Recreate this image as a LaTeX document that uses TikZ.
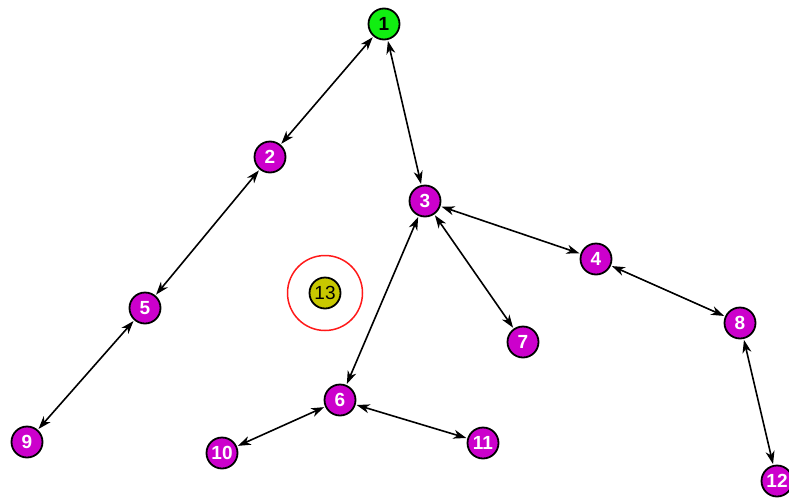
\documentclass[tikz,border=0pt]{standalone}
\usepackage{fontspec}
\setmainfont{Liberation Sans}
\usetikzlibrary{arrows.meta}
\definecolor{mag}{HTML}{CC00CC}
\definecolor{grn}{HTML}{11EE11}
\definecolor{yel}{HTML}{C8C800}
\tikzset{
  vtx/.style={circle, draw=black, line width=1.8pt, fill=mag, minimum size=31pt, inner sep=0pt, text=white, font=\bfseries\fontsize{19pt}{19pt}\selectfont},
  edge/.style={line width=1.6pt, {Stealth[length=13pt,width=9pt,inset=4pt]}-{Stealth[length=13pt,width=9pt,inset=4pt]}, shorten <=1pt, shorten >=1pt}
}
\begin{document}
\begin{tikzpicture}[x=1pt,y=-1pt]
\useasboundingbox (0,0) rectangle (789,498);
\node[vtx, fill=grn, text=black] (n1) at (384,24) {1};
\node[vtx] (n2) at (270,157) {2};
\node[vtx] (n3) at (425,201) {3};
\node[vtx] (n4) at (596,259) {4};
\node[vtx] (n5) at (145,308) {5};
\node[vtx] (n6) at (340,400) {6};
\node[vtx] (n7) at (523,342) {7};
\node[vtx] (n8) at (740,323) {8};
\node[vtx] (n9) at (27,442) {9};
\node[vtx] (n10) at (222,453) {10};
\node[vtx] (n11) at (483,443) {11};
\node[vtx] (n12) at (777,481) {12};
\node[vtx, fill=yel, text=black, font=\fontsize{19pt}{19pt}\selectfont] (n13) at (325,293) {13};
\node[circle, draw=red!90!white, line width=1.5pt, minimum size=75pt, inner sep=0pt] (r13) at (n13) {};
\draw[edge] (n1) -- (n2);
\draw[edge] (n1) -- (n3);
\draw[edge] (n2) -- (n5);
\draw[edge] (n5) -- (n9);
\draw[edge] (n3) -- (n4);
\draw[edge] (n3) -- (n7);
\draw[edge] (n3) -- (n6);
\draw[edge] (n4) -- (n8);
\draw[edge] (n8) -- (n12);
\draw[edge] (n6) -- (n10);
\draw[edge] (n6) -- (n11);
\end{tikzpicture}
\end{document}
